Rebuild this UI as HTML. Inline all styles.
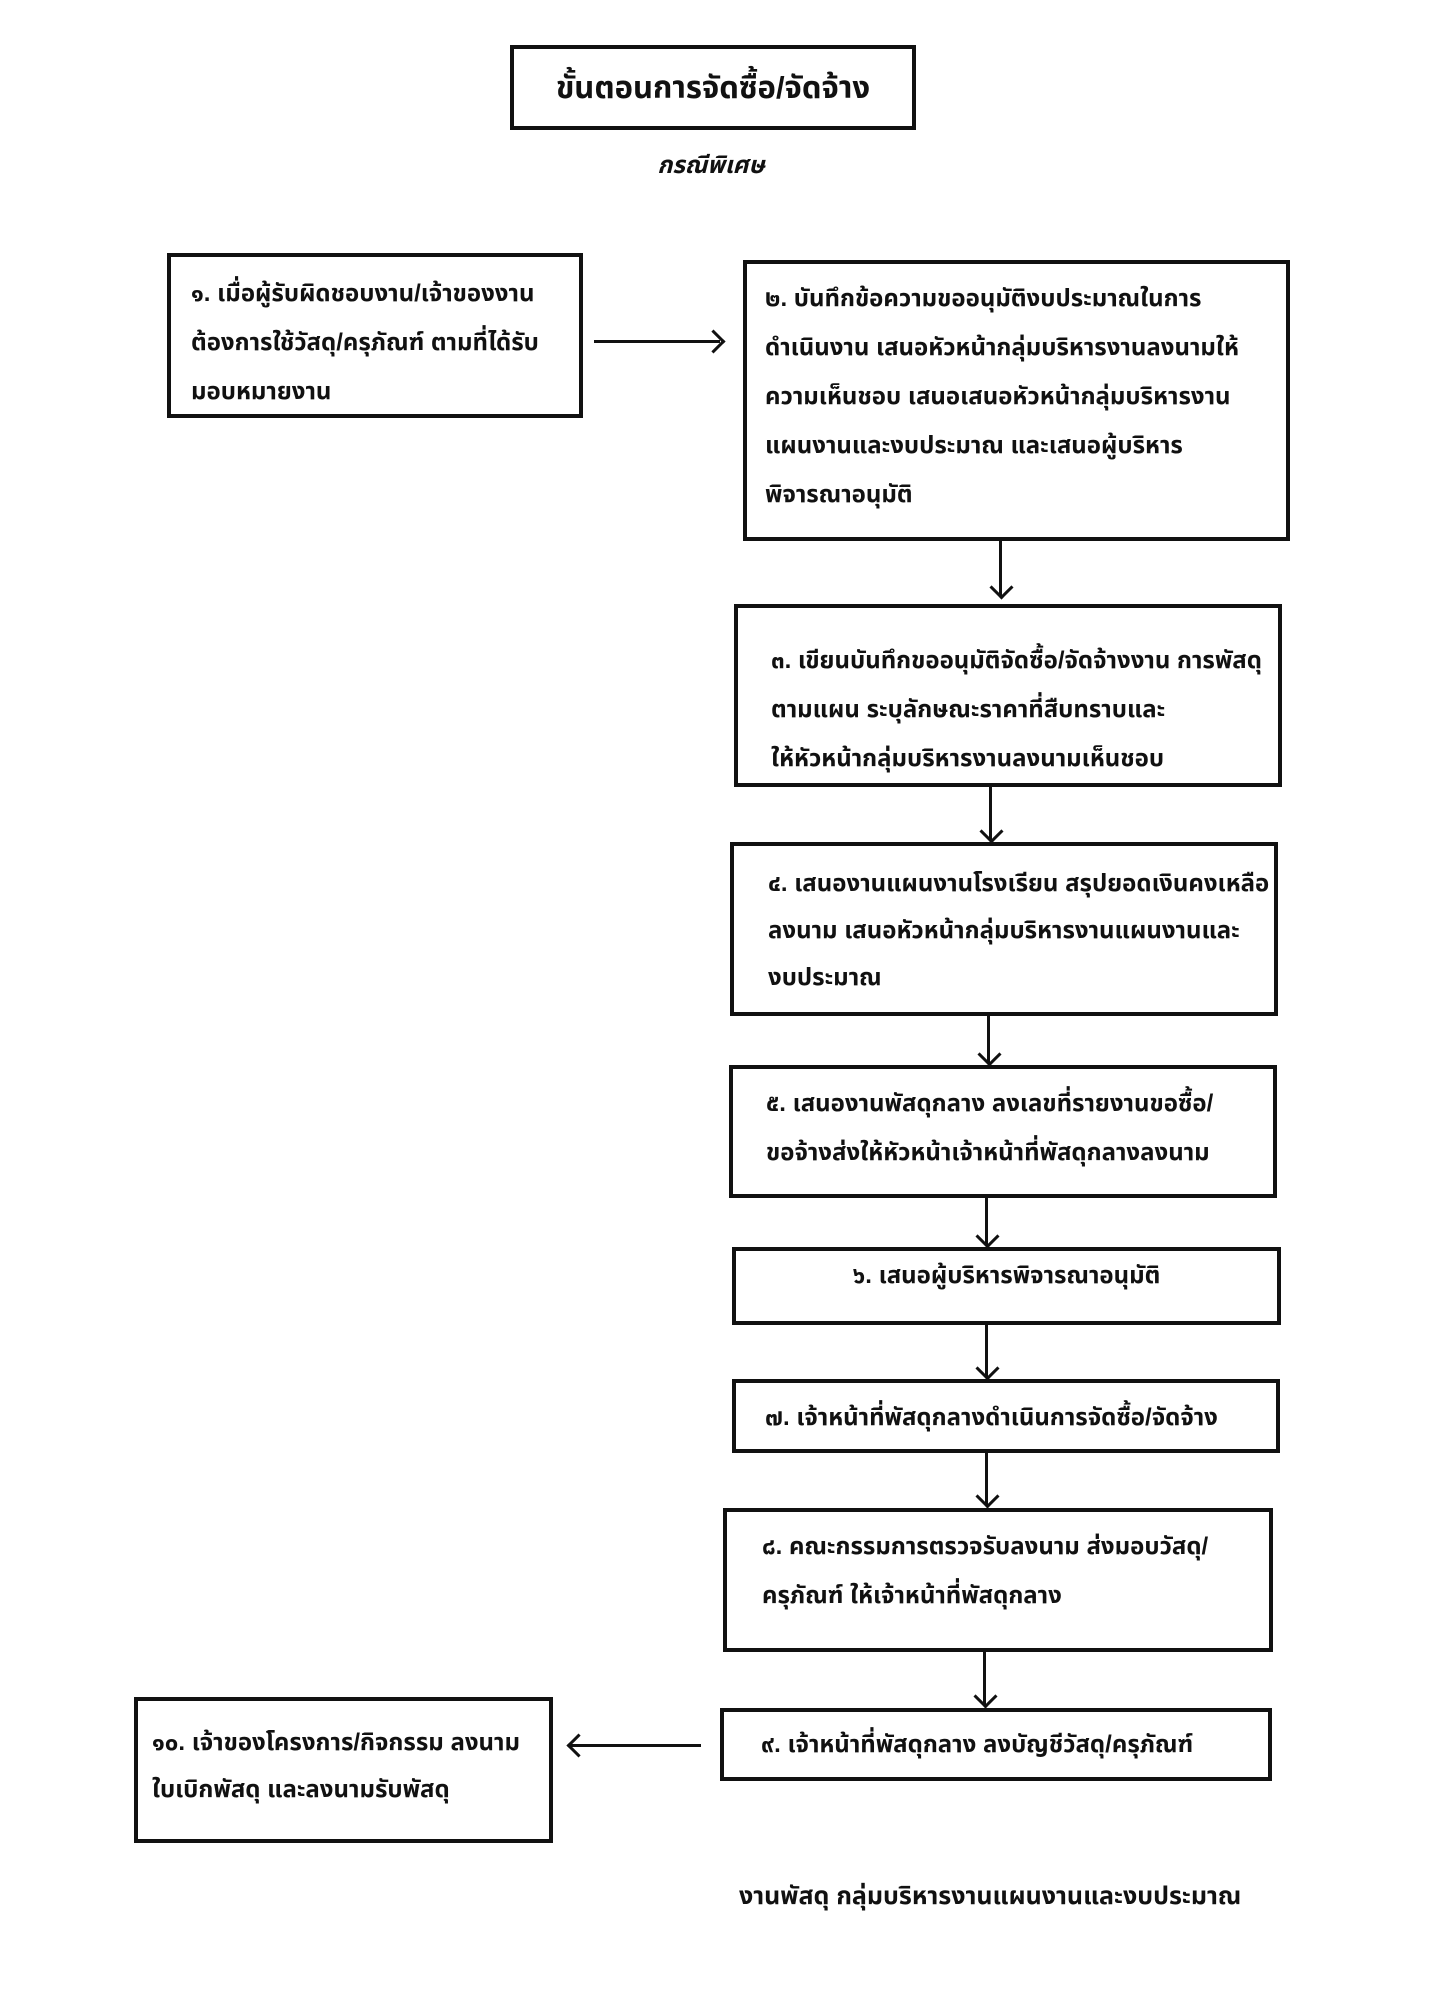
<!DOCTYPE html>
<html><head><meta charset="utf-8">
<style>
html,body{margin:0;padding:0;background:#fff;}
body{width:1430px;height:2016px;position:relative;overflow:hidden;font-family:"Liberation Sans","Noto Sans Thai","Loma","Garuda","Tlwg Typo",sans-serif;color:#111;}
.b{position:absolute;border:4px solid #111;box-sizing:border-box;font-weight:bold;font-size:24px;line-height:49px;white-space:nowrap;}
.v{position:absolute;width:3px;background:#111;}
.h{position:absolute;height:3px;background:#111;}
.ad{position:absolute;width:14px;height:14px;border-right:3px solid #111;border-bottom:3px solid #111;transform:rotate(45deg);}
.t{position:absolute;font-weight:bold;white-space:nowrap;}
</style></head><body>
<div class="b" style="left:510px;top:45px;width:406px;height:85px;text-align:center;line-height:77px;font-size:31px;">ขั้นตอนการจัดซื้อ/จัดจ้าง</div>
<div class="t" style="left:611px;top:148px;width:200px;text-align:center;font-size:24px;font-style:italic;">กรณีพิเศษ</div>

<div class="b" style="left:167px;top:253px;width:416px;height:165px;padding:12px 0 0 20px;">๑. เมื่อผู้รับผิดชอบงาน/เจ้าของงาน<br>ต้องการใช้วัสดุ/ครุภัณฑ์ ตามที่ได้รับ<br>มอบหมายงาน</div>
<div class="h" style="left:594px;top:340px;width:126px;"></div>
<div class="ad" style="left:705px;top:333px;transform:rotate(-45deg);"></div>

<div class="b" style="left:743px;top:260px;width:547px;height:281px;padding:10px 0 0 18px;">๒. บันทึกข้อความขออนุมัติงบประมาณในการ<br>ดำเนินงาน เสนอหัวหน้ากลุ่มบริหารงานลงนามให้<br>ความเห็นชอบ เสนอเสนอหัวหน้ากลุ่มบริหารงาน<br>แผนงานและงบประมาณ และเสนอผู้บริหาร<br>พิจารณาอนุมัติ</div>
<div class="v" style="left:999px;top:541px;height:56px;"></div><div class="ad" style="left:993px;top:579px;"></div>

<div class="b" style="left:734px;top:604px;width:548px;height:183px;padding:28px 0 0 33px;">๓. เขียนบันทึกขออนุมัติจัดซื้อ/จัดจ้างงาน การพัสดุ<br>ตามแผน ระบุลักษณะราคาที่สืบทราบและ<br>ให้หัวหน้ากลุ่มบริหารงานลงนามเห็นชอบ</div>
<div class="v" style="left:989px;top:787px;height:54px;"></div><div class="ad" style="left:983px;top:823px;"></div>

<div class="b" style="left:730px;top:842px;width:548px;height:174px;padding:14px 0 0 34px;line-height:47px;">๔. เสนองานแผนงานโรงเรียน สรุปยอดเงินคงเหลือ<br>ลงนาม เสนอหัวหน้ากลุ่มบริหารงานแผนงานและ<br>งบประมาณ</div>
<div class="v" style="left:987px;top:1016px;height:48px;"></div><div class="ad" style="left:981px;top:1046px;"></div>

<div class="b" style="left:729px;top:1065px;width:548px;height:133px;padding:10px 0 0 33px;">๕. เสนองานพัสดุกลาง ลงเลขที่รายงานขอซื้อ/<br>ขอจ้างส่งให้หัวหน้าเจ้าหน้าที่พัสดุกลางลงนาม</div>
<div class="v" style="left:985px;top:1198px;height:48px;"></div><div class="ad" style="left:979px;top:1228px;"></div>

<div class="b" style="left:732px;top:1247px;width:549px;height:78px;text-align:center;line-height:50px;">๖. เสนอผู้บริหารพิจารณาอนุมัติ</div>
<div class="v" style="left:985px;top:1325px;height:53px;"></div><div class="ad" style="left:979px;top:1360px;"></div>

<div class="b" style="left:732px;top:1379px;width:548px;height:74px;padding:0 0 0 29px;line-height:70px;">๗. เจ้าหน้าที่พัสดุกลางดำเนินการจัดซื้อ/จัดจ้าง</div>
<div class="v" style="left:985px;top:1453px;height:53px;"></div><div class="ad" style="left:979px;top:1488px;"></div>

<div class="b" style="left:723px;top:1508px;width:550px;height:144px;padding:10px 0 0 35px;">๘. คณะกรรมการตรวจรับลงนาม ส่งมอบวัสดุ/<br>ครุภัณฑ์ ให้เจ้าหน้าที่พัสดุกลาง</div>
<div class="v" style="left:983px;top:1652px;height:54px;"></div><div class="ad" style="left:977px;top:1688px;"></div>

<div class="b" style="left:720px;top:1708px;width:552px;height:73px;padding:0 0 0 37px;line-height:65px;">๙. เจ้าหน้าที่พัสดุกลาง ลงบัญชีวัสดุ/ครุภัณฑ์</div>
<div class="h" style="left:568px;top:1744px;width:133px;"></div>
<div class="ad" style="left:570px;top:1737px;transform:rotate(135deg);"></div>

<div class="b" style="left:134px;top:1697px;width:419px;height:146px;padding:18px 0 0 14px;line-height:47px;">๑๐. เจ้าของโครงการ/กิจกรรม ลงนาม<br>ใบเบิกพัสดุ และลงนามรับพัสดุ</div>

<div class="t" style="left:739px;top:1878px;font-size:25px;">งานพัสดุ กลุ่มบริหารงานแผนงานและงบประมาณ</div>
</body></html>
